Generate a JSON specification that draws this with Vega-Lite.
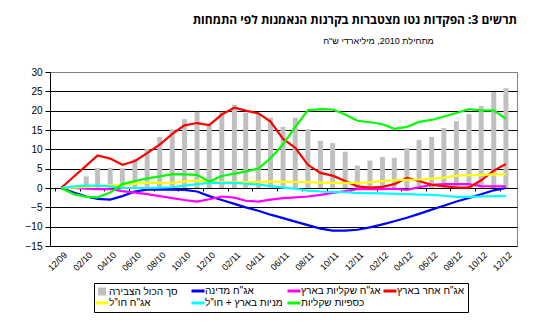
{
  "$schema": "https://vega.github.io/schema/vega-lite/v6.json",
  "width": 467,
  "height": 174,
  "autosize": {"type": "none"},
  "padding": {"left": 50, "top": 72, "right": 29, "bottom": 87},
  "background": "white",
  "config": {
    "view": {"stroke": "#808080", "strokeWidth": 1},
    "font": "Liberation Sans",
    "axisY": {"labelOverlap": false}
  },
  "title": {
    "text": "תרשים 3: הפקדות נטו מצטברות בקרנות הנאמנות לפי התמחות",
    "anchor": "end",
    "fontSize": 12,
    "fontWeight": "bold",
    "font": "Open Sans",
    "color": "black",
    "offset": -3,
    "baseline": "bottom"
  },
  "datasets": {
    "names": [
      {"key": "gov", "name": "אג\"ח מדינה"},
      {"key": "shekel", "name": "אג\"ח שקליות בארץ"},
      {"key": "other", "name": "אג\"ח אחר בארץ"},
      {"key": "abroad", "name": "אג\"ח חו\"ל"},
      {"key": "equity", "name": "מניות בארץ + חו\"ל"},
      {"key": "money", "name": "כספיות שקליות"}
    ],
    "rows": [
      {"date": "2009-12-01", "total": null, "gov": 0, "shekel": 0, "other": 0, "abroad": 0, "equity": 0, "money": 0},
      {"date": "2010-01-01", "total": 0.5, "gov": -1.2, "shekel": 0, "other": 2.9, "abroad": 0.1, "equity": 0.4, "money": -1.6},
      {"date": "2010-02-01", "total": 3.0, "gov": -2.2, "shekel": -0.2, "other": 5.8, "abroad": 0.3, "equity": 0.6, "money": -2.3},
      {"date": "2010-03-01", "total": 5.2, "gov": -2.8, "shekel": -0.3, "other": 8.4, "abroad": 0.5, "equity": 0.6, "money": -2.4},
      {"date": "2010-04-01", "total": 5.2, "gov": -3.0, "shekel": -0.3, "other": 7.6, "abroad": 0.7, "equity": 0.4, "money": -1.2},
      {"date": "2010-05-01", "total": 5.1, "gov": -2.1, "shekel": -0.8, "other": 6.0, "abroad": 0.9, "equity": 0.0, "money": 1.0},
      {"date": "2010-06-01", "total": 7.5, "gov": -0.9, "shekel": -1.2, "other": 7.0, "abroad": 1.1, "equity": 0.0, "money": 1.8},
      {"date": "2010-07-01", "total": 10.1, "gov": -0.4, "shekel": -1.6, "other": 9.0, "abroad": 1.3, "equity": 0.0, "money": 2.5},
      {"date": "2010-08-01", "total": 13.2, "gov": -0.4, "shekel": -2.1, "other": 11.2, "abroad": 1.3, "equity": 0.1, "money": 3.0},
      {"date": "2010-09-01", "total": 15.2, "gov": -0.4, "shekel": -2.6, "other": 14.0, "abroad": 1.4, "equity": 0.2, "money": 3.6},
      {"date": "2010-10-01", "total": 17.8, "gov": -0.5, "shekel": -3.1, "other": 16.2, "abroad": 1.7, "equity": 0.6, "money": 3.5},
      {"date": "2010-11-01", "total": 19.7, "gov": -0.9, "shekel": -3.5, "other": 16.8, "abroad": 1.9, "equity": 1.0, "money": 3.4},
      {"date": "2010-12-01", "total": 16.3, "gov": -2.1, "shekel": -2.9, "other": 16.3, "abroad": 1.6, "equity": 1.3, "money": 1.7},
      {"date": "2011-01-01", "total": 19.7, "gov": -3.1, "shekel": -2.2, "other": 19.0, "abroad": 1.5, "equity": 1.3, "money": 3.1},
      {"date": "2011-02-01", "total": 21.5, "gov": -4.1, "shekel": -2.5, "other": 20.8, "abroad": 1.5, "equity": 1.3, "money": 3.7},
      {"date": "2011-03-01", "total": 19.5, "gov": -5.0, "shekel": -3.3, "other": 20.0, "abroad": 1.5, "equity": 1.1, "money": 4.3},
      {"date": "2011-04-01", "total": 19.1, "gov": -5.9, "shekel": -3.5, "other": 19.3, "abroad": 1.6, "equity": 0.9, "money": 5.0},
      {"date": "2011-05-01", "total": 18.2, "gov": -6.9, "shekel": -3.0, "other": 17.2, "abroad": 1.7, "equity": 0.5, "money": 7.7},
      {"date": "2011-06-01", "total": 15.8, "gov": -7.8, "shekel": -2.6, "other": 12.7, "abroad": 1.6, "equity": 0.1, "money": 11.3},
      {"date": "2011-07-01", "total": 18.2, "gov": -8.7, "shekel": -2.4, "other": 10.4, "abroad": 1.55, "equity": -0.2, "money": 15.8},
      {"date": "2011-08-01", "total": 15.2, "gov": -9.6, "shekel": -2.2, "other": 6.0, "abroad": 1.5, "equity": -0.7, "money": 20.1},
      {"date": "2011-09-01", "total": 12.2, "gov": -10.5, "shekel": -1.8, "other": 3.9, "abroad": 1.4, "equity": -0.9, "money": 20.4},
      {"date": "2011-10-01", "total": 11.6, "gov": -11.0, "shekel": -1.3, "other": 3.2, "abroad": 1.3, "equity": -1.0, "money": 20.3},
      {"date": "2011-11-01", "total": 9.4, "gov": -11.0, "shekel": -0.8, "other": 1.8, "abroad": 1.3, "equity": -1.1, "money": 19.0},
      {"date": "2011-12-01", "total": 5.8, "gov": -10.8, "shekel": -0.3, "other": 0.4, "abroad": 1.3, "equity": -1.3, "money": 17.4},
      {"date": "2012-01-01", "total": 7.1, "gov": -10.2, "shekel": -0.3, "other": 0.1, "abroad": 1.5, "equity": -1.3, "money": 17.0},
      {"date": "2012-02-01", "total": 8.0, "gov": -9.4, "shekel": -0.3, "other": 0.3, "abroad": 1.8, "equity": -1.4, "money": 16.5},
      {"date": "2012-03-01", "total": 7.8, "gov": -8.6, "shekel": -0.2, "other": 1.0, "abroad": 2.0, "equity": -1.5, "money": 15.3},
      {"date": "2012-04-01", "total": 10.3, "gov": -7.7, "shekel": -0.5, "other": 2.6, "abroad": 2.1, "equity": -1.6, "money": 15.8},
      {"date": "2012-05-01", "total": 12.4, "gov": -6.7, "shekel": 0.2, "other": 1.8, "abroad": 2.2, "equity": -1.7, "money": 17.1},
      {"date": "2012-06-01", "total": 13.2, "gov": -5.6, "shekel": 0.8, "other": 0.8, "abroad": 2.4, "equity": -1.8, "money": 17.6},
      {"date": "2012-07-01", "total": 15.5, "gov": -4.6, "shekel": 1.0, "other": 0.5, "abroad": 2.7, "equity": -2.0, "money": 18.5},
      {"date": "2012-08-01", "total": 17.3, "gov": -3.5, "shekel": 1.0, "other": 0.1, "abroad": 3.2, "equity": -2.3, "money": 19.4},
      {"date": "2012-09-01", "total": 19.1, "gov": -2.6, "shekel": 1.0, "other": 0.1, "abroad": 3.3, "equity": -2.3, "money": 20.4},
      {"date": "2012-10-01", "total": 21.2, "gov": -1.6, "shekel": 0.5, "other": 2.0, "abroad": 3.4, "equity": -2.2, "money": 20.1},
      {"date": "2012-11-01", "total": 24.8, "gov": -0.6, "shekel": 0.4, "other": 4.5, "abroad": 3.5, "equity": -2.1, "money": 20.1},
      {"date": "2012-12-01", "total": 25.8, "gov": 0.0, "shekel": 0.4, "other": 6.2, "abroad": 3.6, "equity": -2.1, "money": 17.9}
    ]
  },
  "data": {"name": "rows"},
  "encoding": {
    "x": {
      "field": "date",
      "type": "temporal",
      "title": null,
      "scale": {
        "type": "utc",
        "domain": [
          {"year": 2009, "month": 11, "date": 16, "utc": true},
          {"year": 2012, "month": 12, "date": 16, "utc": true}
        ]
      },
      "axis": {
        "orient": "bottom",
        "offset": -58,
        "values": [
          {"year": 2009, "month": 12, "date": 1, "utc": true},
          {"year": 2010, "month": 2, "date": 1, "utc": true},
          {"year": 2010, "month": 4, "date": 1, "utc": true},
          {"year": 2010, "month": 6, "date": 1, "utc": true},
          {"year": 2010, "month": 8, "date": 1, "utc": true},
          {"year": 2010, "month": 10, "date": 1, "utc": true},
          {"year": 2010, "month": 12, "date": 1, "utc": true},
          {"year": 2011, "month": 2, "date": 1, "utc": true},
          {"year": 2011, "month": 4, "date": 1, "utc": true},
          {"year": 2011, "month": 6, "date": 1, "utc": true},
          {"year": 2011, "month": 8, "date": 1, "utc": true},
          {"year": 2011, "month": 10, "date": 1, "utc": true},
          {"year": 2011, "month": 12, "date": 1, "utc": true},
          {"year": 2012, "month": 2, "date": 1, "utc": true},
          {"year": 2012, "month": 4, "date": 1, "utc": true},
          {"year": 2012, "month": 6, "date": 1, "utc": true},
          {"year": 2012, "month": 8, "date": 1, "utc": true},
          {"year": 2012, "month": 10, "date": 1, "utc": true},
          {"year": 2012, "month": 12, "date": 1, "utc": true}
        ],
        "format": "%m/%y",
        "labelAngle": -45,
        "labelAlign": "right",
        "labelBaseline": "middle",
        "labelFont": "Liberation Sans",
        "labelFontSize": 9,
        "labelColor": "black",
        "labelPadding": 62,
        "labelOverlap": false,
        "labelFlush": false,
        "tickOffset": -6,
        "labelOffset": 10,
        "tickSize": 3,
        "tickColor": "black",
        "domainColor": "black",
        "grid": false
      }
    }
  },
  "layer": [
    {
      "mark": {"type": "bar", "width": 5},
      "encoding": {
        "y": {
          "field": "total",
          "type": "quantitative",
          "title": "מתחילת 2010, מיליארדי ש\"ח",
          "scale": {"domain": [-15, 30], "nice": false, "zero": false},
          "axis": {
            "values": [-15, -10, -5, 0, 5, 10, 15, 20, 25, 30],
            "tickSize": 5,
            "tickColor": "black",
            "domainColor": "black",
            "labelFont": "Liberation Sans",
            "labelFontSize": 10,
            "labelColor": "black",
            "labelPadding": 3,
            "labelOverlap": false,
            "labelFlush": false,
            "labelBound": false,
            "grid": true,
            "gridColor": {"condition": {"test": "datum.value === 30", "value": "#808080"}, "value": "black"},
            "gridWidth": 1,
            "gridOpacity": 1,
            "titleAngle": 0,
            "titleX": 328,
            "titleY": -32,
            "titleAlign": "center",
            "titleBaseline": "middle",
            "titleFont": "Liberation Sans",
            "titleFontSize": 9,
            "titleFontWeight": "normal",
            "titleColor": "black"
          }
        },
        "color": {
          "datum": "סך הכול הצבירה",
          "type": "nominal",
          "title": null,
          "scale": {
            "domain": ["סך הכול הצבירה", "אג\"ח מדינה", "אג\"ח שקליות בארץ", "אג\"ח אחר בארץ", "אג\"ח חו\"ל", "מניות בארץ + חו\"ל", "כספיות שקליות"],
            "range": ["#C0C0C0", "#0000FF", "#FF00FF", "#FF0000", "#FFFF00", "#00FFFF", "#00FF00"]
          },
          "legend": {
            "orient": "none",
            "legendX": 44,
            "legendY": 211,
            "direction": "horizontal",
            "columns": 4,
            "gridAlign": "all",
            "title": null,
            "strokeColor": "black",
            "fillColor": "white",
            "padding": 3,
            "labelFont": "Liberation Sans",
            "labelFontSize": 10,
            "labelColor": "black",
            "labelOffset": 2,
            "labelLimit": 200,
            "columnPadding": -4,
            "rowPadding": 0,
            "symbolSize": 100,
            "symbolType": "stroke",
            "symbolStrokeWidth": 3,
            "encode": {
              "symbols": {
                "update": {
                  "shape": {"signal": "datum.value === 'סך הכול הצבירה' ? 'square' : 'stroke'"},
                  "size": {"signal": "datum.value === 'סך הכול הצבירה' ? 64 : 169"},
                  "fill": {"signal": "datum.value === 'סך הכול הצבירה' ? '#C0C0C0' : 'transparent'"},
                  "stroke": {"signal": "scale('color', datum.value)"},
                  "strokeWidth": {"signal": "datum.value === 'סך הכול הצבירה' ? 0 : 3"},
                  "opacity": {"value": 1}
                }
              }
            }
          }
        }
      }
    },
    {
      "transform": [
        {"fold": ["gov", "shekel", "other", "abroad", "equity", "money"], "as": ["key", "value"]},
        {"lookup": "key", "from": {"data": {"name": "names"}, "key": "key", "fields": ["name"]}}
      ],
      "mark": {"type": "line", "strokeWidth": 2.2},
      "encoding": {
        "y": {
          "field": "value",
          "type": "quantitative",
          "title": "מתחילת 2010, מיליארדי ש\"ח",
          "axis": {
            "values": [-15, -10, -5, 0, 5, 10, 15, 20, 25, 30],
            "labelOverlap": false
          }
        },
        "color": {"field": "name", "type": "nominal", "title": null}
      }
    }
  ]
}
